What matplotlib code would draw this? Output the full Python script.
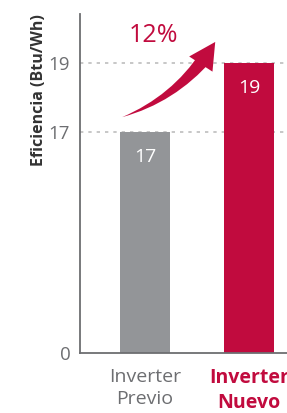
import matplotlib
matplotlib.use("Agg")
import matplotlib.pyplot as plt
import numpy as np

categories = ["Inverter\nPrevio", "Inverter\nNuevo"]
values = [17, 19]
yticks = [0, 17, 19]
pct_label = "12%"
ylabel = "Eficiencia (Btu/Wh)"

GRAY = "#939598"
RED = "#C10B3E"
TXT = "#6D6E71"

plt.rcParams['font.family'] = ['Open Sans', 'DejaVu Sans']

# piecewise (broken) y scale: 0..17 compressed, 17..19 expanded
def fwd(v):
    v = np.asarray(v, dtype=float)
    return np.where(v <= 17, v * 13.0, 221.0 + (v - 17) * 34.5)

def inv(p):
    p = np.asarray(p, dtype=float)
    return np.where(p <= 221, p / 13.0, 17 + (p - 221) / 34.5)

fig = plt.figure(figsize=(2.87, 4.13), dpi=100)
ax = fig.add_axes([80/287, 60/413, 207/287, 339/413])
ax.set_yscale('function', functions=(fwd, inv))
ax.set_ylim(0, 20.42)
ax.set_xlim(-0.625, 1.365)

x = np.arange(len(values))
bars = ax.bar(x, values, width=0.48, color=[GRAY, RED], zorder=2)

for xi, v in zip(x, values):
    ax.annotate(str(v), xy=(xi, v), xytext=(0, -18), textcoords='offset points',
                ha='center', va='center', color='white', fontsize=14, zorder=3)

for t in yticks[1:]:
    ax.axhline(t, color='#BDBDBD', lw=1.2, ls=(0, (2, 3)), zorder=1)

ax.set_yticks(yticks)
ax.set_yticklabels([str(t) for t in yticks], fontsize=13.5, color=TXT)
ax.tick_params(axis='y', length=0, pad=7)
ax.set_xticks(x)
ax.set_xticklabels(categories, fontsize=14, linespacing=1.35)
ax.tick_params(axis='x', length=0, pad=10.5)
labs = ax.get_xticklabels()
labs[0].set_color(TXT)
labs[1].set_color(RED)
labs[1].set_fontweight('bold')

for s in ['top', 'right']:
    ax.spines[s].set_visible(False)
for s in ['left', 'bottom']:
    ax.spines[s].set_color('#6D6E71')
    ax.spines[s].set_linewidth(1.3)

fig.text(39/287, 1 - 90/413, ylabel, rotation=90, ha='center', va='center',
         fontsize=11.5, fontweight='bold', color='#333333')

ax.text(0.08, 19.8, pct_label, ha='center', va='center', color=RED, fontsize=18)

# tapered curved body
ax.annotate("", xy=(-0.22, 17.43), xytext=(0.59, 19.2),
            arrowprops=dict(arrowstyle="wedge,tail_width=0.5,shrink_factor=0.5",
                            connectionstyle="arc3,rad=-0.15", color=RED, lw=0,
                            mutation_scale=20, shrinkA=0, shrinkB=0), zorder=4)
# arrow head
ax.annotate("", xy=(0.675, 19.61), xytext=(0.58, 19.17),
            arrowprops=dict(arrowstyle="-|>,head_length=0.95,head_width=0.5",
                            color=RED, lw=0, mutation_scale=20,
                            shrinkA=0, shrinkB=0), zorder=4)

fig.savefig("out.png", dpi=100)
